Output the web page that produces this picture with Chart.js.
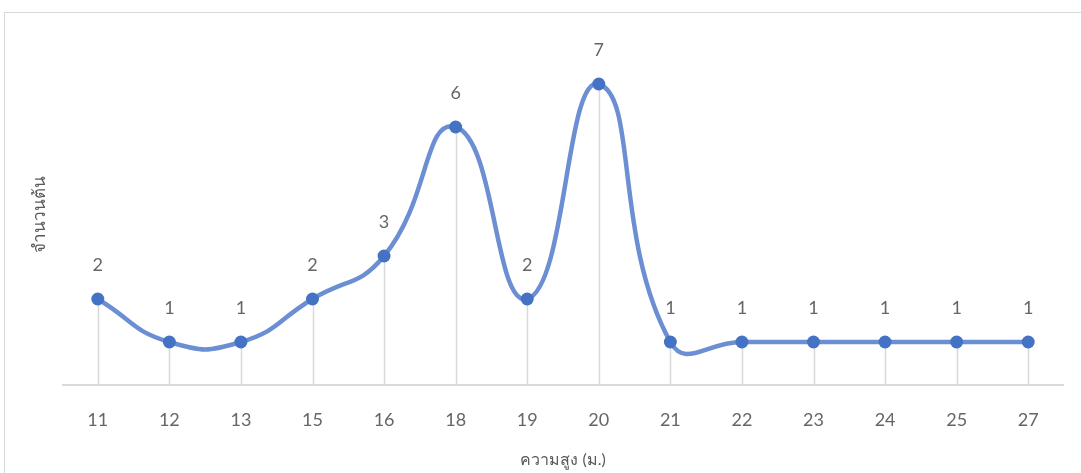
<!DOCTYPE html>
<html><head><meta charset="utf-8">
<script src="https://cdn.jsdelivr.net/npm/chart.js@4/dist/chart.umd.min.js"></script>
<style>html,body{margin:0;padding:0;background:#fff;}#wrap{width:1081px;height:473px;position:relative;}</style>
</head><body><div id="wrap"><canvas id="c" width="1081" height="473"></canvas></div>
<script>
const categories = ['11','12','13','15','16','18','19','20','21','22','23','24','25','27'];
const counts = [2,1,1,2,3,6,2,7,1,1,1,1,1,1];
const xTitle = 'ความสูง (ม.)';
const yTitle = 'จำนวนต้น';
const FONT = 'Lato, "Noto Sans", "DejaVu Sans", sans-serif';

const extras = {
  id:'extras',
  beforeDraw(chart){
    const ctx = chart.ctx;
    ctx.save();
    ctx.fillStyle='#fff'; ctx.fillRect(0,0,chart.width,chart.height);
    ctx.strokeStyle='#d9d9d9'; ctx.lineWidth=1;
    ctx.strokeRect(4.5,12.5,chart.width+20,chart.height+20);
    const meta = chart.getDatasetMeta(0);
    const yb = chart.scales.y.getPixelForValue(0);
    ctx.strokeStyle='#d9d9d9'; ctx.lineWidth=1.5;
    meta.data.forEach(p=>{
      ctx.beginPath(); ctx.moveTo(Math.round(p.x)+0.5,p.y); ctx.lineTo(Math.round(p.x)+0.5,yb); ctx.stroke();
    });
    const xa = chart.scales.x;
    ctx.strokeStyle='#d9d9d9'; ctx.lineWidth=2;
    ctx.beginPath(); ctx.moveTo(xa.left,yb); ctx.lineTo(xa.right,yb); ctx.stroke();
    ctx.restore();
  },
  afterDraw(chart){
    const ctx = chart.ctx;
    const meta = chart.getDatasetMeta(0);
    ctx.save();
    ctx.fillStyle='#666666';
    ctx.font='18px '+FONT;
    ctx.textAlign='center'; ctx.textBaseline='middle';
    meta.data.forEach((p,i)=>{ ctx.fillText(String(counts[i]), p.x, p.y-34); });
    ctx.fillStyle='#595959';
    ctx.font='16px '+FONT;
    const xa = chart.scales.x;
    ctx.fillText(xTitle,(xa.left+xa.right)/2,460);
    ctx.font='17px '+FONT;
    ctx.translate(40,214); ctx.rotate(-Math.PI/2);
    ctx.fillText(yTitle,0,0);
    ctx.restore();
  }
};

new Chart(document.getElementById('c'),{
  type:'line',
  data:{labels:categories,datasets:[{
    data:counts,
    borderColor:'#6b8fd2',borderWidth:4.5,
    pointBackgroundColor:'#4472c4',pointBorderColor:'#4472c4',pointRadius:6.5,pointBorderWidth:0,
    tension:0.5,cubicInterpolationMode:'default',fill:false
  }]},
  options:{
    responsive:false,animation:false,devicePixelRatio:1,
    layout:{padding:{left:62,right:17,top:41,bottom:0}},
    plugins:{legend:{display:false},tooltip:{enabled:false}},
    elements:{line:{capBezierPoints:false}},
    scales:{
      x:{offset:true,grid:{display:false,drawTicks:false},border:{display:false},
        ticks:{color:'#666666',font:{size:18,family:FONT},padding:24,maxRotation:0},
        afterFit(s){s.height=88;}},
      y:{display:false,min:0,max:8}
    }
  },
  plugins:[extras]
});
</script></body></html>
